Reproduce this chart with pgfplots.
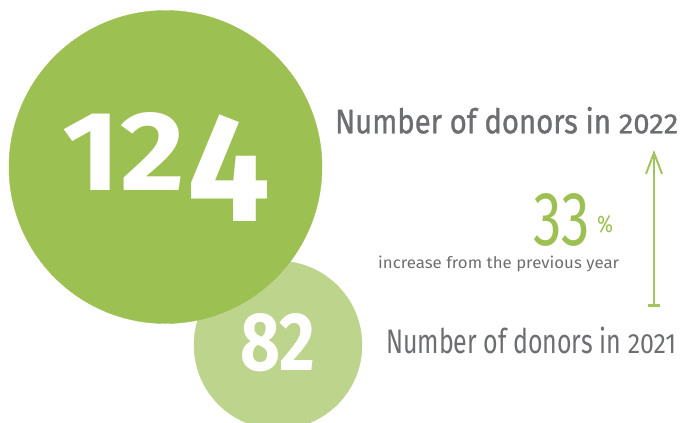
\documentclass[border=0pt]{standalone}
\usepackage{pgfplots}
\pgfplotsset{compat=1.18}
\usepackage{fontspec}
\setmainfont{Fira Sans}
\newfontfamily\flin[Numbers=Lining]{Fira Sans}
\newfontfamily\fmed[FakeBold=1.0]{Fira Sans}
\usetikzlibrary{arrows.meta}
\definecolor{bigg}{RGB}{157,192,82}
\definecolor{smallg}{RGB}{188,212,139}
\definecolor{txtgray}{RGB}{109,110,113}
\definecolor{arrg}{RGB}{163,196,94}
\newcommand{\od}[1]{\scalebox{1}[0.82]{#1}}
\begin{document}
\begin{tikzpicture}
\begin{axis}[name=ax, hide axis, scale only axis, width=683pt, height=423pt,
  xmin=0, xmax=683, ymin=0, ymax=423, y dir=reverse,
  clip=true, clip marker paths=true]
% circles: value 82 (2021) and 124 (2022)
\addplot[smallg, only marks, mark=*, mark size=84pt, mark options={fill=smallg, draw=smallg}] coordinates {(278,345)};
\addplot[bigg, only marks, mark=*, mark size=156.5pt, mark options={fill=bigg, draw=bigg}] coordinates {(165.5,167)};
% arrow
\addplot[arrg, line width=2pt, {Bar[width=12.5pt,line width=2.5pt]}-{Straight Barb[length=21pt,width=16pt,line width=2pt]}] coordinates {(654,306.5) (654,150)};
\node[anchor=base west, inner sep=0, text=white] at (axis cs:62.7,190.7) {\resizebox{122.3pt}{78pt}{\flin\bfseries 12}};
\node[anchor=base west, inner sep=0, text=white] at (axis cs:187,221.7) {\resizebox{83pt}{106.7pt}{\flin\bfseries 4}};
\node[anchor=base west, inner sep=0, text=white] at (axis cs:240,370) {\resizebox{75pt}{57pt}{\flin\bfseries 82}};
\node[anchor=base west, inner sep=0, text=bigg] at (axis cs:533,245) {\resizebox{57pt}{52pt}{\flin 33}};
\node[anchor=base west, inner sep=0, text=bigg] at (axis cs:597,232) {\resizebox{16pt}{17pt}{\flin\%}};
\node[anchor=base west, inner sep=0, text=txtgray] at (axis cs:378,268) {\resizebox{241pt}{12.5pt}{increase from the previous year}};
\node[anchor=base west, inner sep=0, text=txtgray] at (axis cs:335,133.3) {\resizebox{343pt}{26.5pt}{\fmed Number of donors in \od{2022}}};
\node[anchor=base west, inner sep=0, text=txtgray] at (axis cs:386,353.3) {\resizebox{290pt}{26.5pt}{Number of donors in \od{2021}}};
\end{axis}
\pgfresetboundingbox
\path (ax.south west) rectangle (ax.north east);
\end{tikzpicture}
\end{document}
